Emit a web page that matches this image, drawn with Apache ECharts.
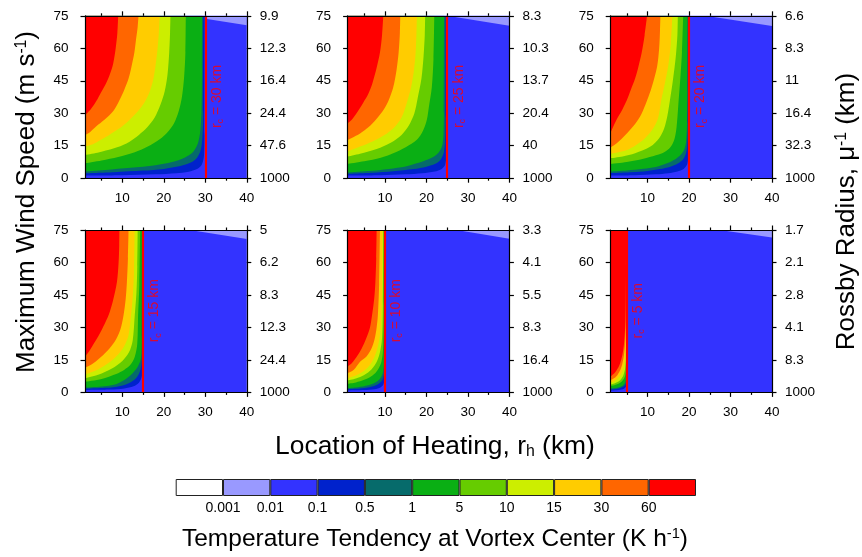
<!DOCTYPE html>
<html>
<head>
<meta charset="utf-8">
<script src="https://cdn.jsdelivr.net/npm/echarts@6/dist/echarts.min.js"></script>
<style>
  html, body { margin: 0; padding: 0; background: #fff; }
  #chart { width: 862px; height: 557px; }
</style>
</head>
<body>
<div id="chart"></div>
<script>
// radius of max wind for each panel (km)
const rmList = [30, 25, 20, 15, 10, 5];

// right axis labels (Rossby radius, km) at y = 0,15,30,45,60,75
const rossbyLabels = [
  ['1000', '47.6', '24.4', '16.4', '12.3', '9.9'],
  ['1000', '40', '20.4', '13.7', '10.3', '8.3'],
  ['1000', '32.3', '16.4', '11', '8.3', '6.6'],
  ['1000', '24.4', '12.3', '8.3', '6.2', '5'],
  ['1000', '16.4', '8.3', '5.5', '4.1', '3.3'],
  ['1000', '8.3', '4.1', '2.8', '2.1', '1.7']
];

const xMajor = [10, 20, 30, 40];
const xMinor = [5, 15, 25, 35];

// colour bar
const cbColors = ['#ffffff', '#9999ff', '#3333ff', '#0022cc', '#066b6b', '#0aaf14',
                  '#66cc00', '#ccee00', '#ffcc00', '#ff6600', '#ff0000'];
const cbLabels = ['0.001', '0.01', '0.1', '0.5', '1', '5', '10', '15', '30', '60'];

// contour lines, [rh, Vmax]; order of levels:
// 0.1, 0.5, 1, 5, 10, 15, 30, 60 (area above each line is > level)
const contourRm30 = [
  [[1,1.2],[10,1.4],[18,1.8],[23,2.3],[26,3],[28,4.2],[29.2,6.5],[29.7,11],[29.8,20],[29.85,75]],
  [[1,2.3],[8,2.8],[15,3.5],[20,4.3],[24,5.6],[26.5,7.2],[28,9.5],[28.9,13],[29.3,19],[29.5,30],[29.52,75]],
  [[1,3.1],[6,3.8],[12,4.8],[18,6],[22,7.5],[25,9.5],[27,12],[28.2,16],[28.8,22],[29.1,32],[29.2,50],[29.22,75]],
  [[1,6.9],[5,8.2],[9,9.8],[13,12],[16,14.5],[19,18],[21,21.5],[22.5,25.5],[23.6,31],[24.4,38],[24.9,47],[25.2,58],[25.3,75]],
  [[1,10.8],[4,11.8],[8,13.8],[11,16],[14,20],[16,23.5],[17.8,28],[19.2,34],[20.2,40],[20.9,48],[21.3,58],[21.5,67],[21.6,75]],
  [[1,14.6],[3,15.8],[6,19],[8,21.5],[10,24],[12,27.5],[14,31.5],[15.5,35.5],[16.7,40.5],[17.5,46],[18,52],[18.5,60],[18.8,67],[19,75]],
  [[1,20],[2,21],[3.6,23.8],[5,26],[6.5,28.4],[8,31.5],[9.3,36],[10.5,41],[11.5,46],[12.2,51.5],[12.9,58],[13.3,64],[13.7,70],[13.9,75]],
  [[1,29],[2,31],[3,33.5],[4,36.5],[5,40],[6,43.5],[7,48],[7.8,53],[8.4,60],[8.8,67],[9,75]]
];
const contourRm25 = [
  [[1,1.2],[9,1.4],[15,1.8],[19,2.3],[22,3.1],[23.7,4.3],[24.5,6.2],[24.8,10],[24.85,20],[24.9,75]],
  [[1,2],[7,2.5],[12,3.2],[17,4.2],[20,5.3],[22.3,6.8],[23.5,8.8],[24.2,12],[24.5,18],[24.6,28],[24.62,75]],
  [[1,2.6],[6,3.3],[11,4.3],[15,5.4],[17.7,6.9],[20.5,8.8],[22,10.3],[23,12],[23.8,15],[24.1,20],[24.2,30],[24.25,75]],
  [[1,6.6],[5,7.8],[9,9.4],[12,11.5],[15,14.3],[17.7,17.7],[19.2,22],[20.1,27],[20.6,33],[21.3,42],[21.7,55],[21.9,75]],
  [[1,10],[4,11.3],[8,13.5],[11.5,16.5],[14,20],[15.8,24.5],[17.1,30],[17.9,37],[18.8,46],[19.3,56],[19.6,66],[19.7,75]],
  [[1,12.3],[4,14.6],[7,17],[10.5,20.7],[12.5,24],[14,28],[15.3,35],[16.3,42],[17,50],[17.4,58],[17.6,67],[17.7,75]],
  [[1,17.7],[2,18.6],[4,20.7],[6,23.5],[8,27.5],[9.8,32],[10.9,36],[12,42],[12.8,50],[13.3,58],[13.6,67],[13.7,75]],
  [[1,25.3],[2,27],[3,29.5],[4.8,35],[6,39],[7,44],[8,51],[8.8,58],[9.3,66],[9.6,75]]
];
const contourRm20 = [
  [[1,1.2],[7,1.4],[12,1.8],[15,2.3],[17.2,3.1],[18.7,4.3],[19.5,6.2],[19.8,9.5],[19.9,18],[19.92,75]],
  [[1,2.3],[6,2.7],[10,3.3],[13,4.2],[15.5,5.3],[17.3,6.8],[18.6,8.8],[19.3,11.8],[19.6,16],[19.75,25],[19.78,75]],
  [[1,3.1],[5,3.6],[9,4.4],[12,5.2],[14.7,6.9],[16.7,8.8],[18,10.8],[18.8,13],[19.3,17],[19.5,24],[19.6,40],[19.62,75]],
  [[1,6.6],[5,7.5],[9,9],[12,10.6],[14,12],[15.5,14.3],[16.4,17.5],[16.9,22],[17.2,28],[17.5,36],[17.9,46],[18.3,58],[18.6,75]],
  [[1,9.2],[4,10],[7,11.5],[10.7,14.6],[12.8,18.5],[14,23],[14.8,29],[15.4,36],[16.1,45],[16.8,56],[17.2,66],[17.3,75]],
  [[1,11.2],[3,12],[5,13],[7,15],[9,17.7],[11,22],[12.5,27.5],[13.3,36],[14.2,44],[15,52],[15.6,62],[16,75]],
  [[1,14.1],[2.5,16],[5,20.7],[7,25],[8.5,29.5],[9.9,36],[11,42],[12.3,51.5],[12.8,60],[13,68],[13.1,75]],
  [[1,20.7],[2.5,26.9],[4,32],[5,36],[6,41],[7,46],[7.8,51.5],[8.6,58],[9.3,66],[9.9,75]]
];
const contourRm15 = [
  [[1,1.1],[7,1.3],[10.5,1.8],[12.7,2.8],[14,4.5],[14.7,7.5],[14.9,13],[14.92,75]],
  [[1,1.7],[6,2.1],[9.5,3],[11.8,4.5],[13.4,6.8],[14.3,10],[14.7,15],[14.85,25],[14.86,75]],
  [[1,2.2],[5,2.7],[8.5,3.8],[11.1,6.5],[12.8,9.5],[13.9,12.5],[14.5,16],[14.7,25],[14.75,75]],
  [[1,4.9],[5,6.2],[8.5,8.5],[10.5,10.5],[11.9,12.6],[13,16.5],[13.6,22.5],[13.8,35.7],[14.1,50],[14.3,75]],
  [[1,6.5],[4,8],[7.5,11],[10,14.5],[11.6,18.5],[12.5,24],[13,35.7],[13.4,46],[13.6,58],[13.7,75]],
  [[1,8.3],[4,10.5],[7.1,14.2],[9,17.5],[10.5,21.5],[11.5,26.5],[12.1,35.7],[12.5,44],[12.8,55],[12.97,75]],
  [[1,11.4],[3,13.5],[5.4,17.3],[7,20.5],[8.5,24.5],[9.6,29.5],[10.3,35.7],[10.8,43],[11.1,51],[11.35,62],[11.5,75]],
  [[1,16.5],[2,19],[3.4,23.4],[4.5,27],[5.7,31.5],[6.7,35.7],[7.7,42],[8.7,51],[9.1,60],[9.25,68],[9.3,75]]
];
const contourRm10 = [
  [[1,0.9],[5,1.1],[7.5,1.5],[9,2.4],[9.7,4],[9.93,8],[9.96,75]],
  [[1,1.5],[4,1.8],[6.5,2.5],[8.2,3.6],[9.3,5.5],[9.8,9],[9.92,16],[9.93,75]],
  [[1,2],[3.5,2.4],[6,3.3],[7.8,4.7],[9,6.8],[9.6,10],[9.85,16],[9.88,75]],
  [[1,4],[3,4.6],[5,5.8],[7,7.8],[8.3,10.5],[9.2,14.5],[9.6,22],[9.75,40],[9.76,75]],
  [[1,5.5],[3,6.4],[5,8],[6.8,10.7],[8,14],[8.8,18.5],[9.3,25],[9.5,40],[9.6,75]],
  [[1,6.6],[3,7.8],[5,10],[6.5,13],[7.6,17],[8.4,22],[8.9,28],[9.1,35.7],[9.3,50],[9.4,75]],
  [[1,8.9],[2.5,10.5],[4,14.2],[5.5,16.5],[6.7,20],[7.5,24.5],[8,30],[8.3,35.7],[8.6,50],[8.8,75]],
  [[1,12],[2,13.5],[3.2,16.5],[4.4,20.3],[5.5,25],[6.4,30],[6.9,35.7],[7.4,43],[7.7,51],[7.9,62],[8,75]]
];
const contourRm5 = [
  [[1,0.9],[2.5,1],[3.7,1.3],[4.4,1.8],[4.85,2.8],[4.98,5],[4.99,75]],
  [[1,1.4],[2.5,1.6],[3.5,2],[4.2,2.7],[4.7,3.8],[4.93,6],[4.98,10],[4.985,75]],
  [[1,1.8],[2.2,2],[3.2,2.4],[4,3.1],[4.5,4.2],[4.85,6.3],[4.96,10],[4.97,75]],
  [[1,3],[2,3.3],[3,4],[3.8,5],[4.4,6.6],[4.75,9],[4.92,14],[4.96,25],[4.965,75]],
  [[1,3.6],[2,4.1],[3,5],[3.7,6.3],[4.2,8],[4.6,11],[4.85,16],[4.94,28],[4.95,75]],
  [[1,4.5],[2,5.2],[2.8,6.4],[3.5,8],[4,10.2],[4.4,13.5],[4.7,18],[4.88,27],[4.92,45],[4.93,75]],
  [[1,5.5],[2,6.6],[2.8,8.2],[3.4,10.2],[3.9,13],[4.3,17],[4.6,23],[4.8,33],[4.88,50],[4.9,75]],
  [[1,7.2],[2,8.8],[2.8,11],[3.4,13.5],[3.9,17],[4.3,22],[4.6,30],[4.75,42],[4.82,58],[4.85,75]]
];
// small 0.001-0.01 wedge at the top right of each panel
const wedges = [
  [[30, 73.6], [40, 70.6]],
  [[25, 75], [40, 70.4]],
  [[24, 75], [40, 70.3]],
  [[26.3, 75], [40, 70.8]],
  [[27.3, 75], [40, 71]],
  [[27.4, 75], [40, 71.5]]
];

const panelContours = [contourRm30, contourRm25, contourRm20, contourRm15, contourRm10, contourRm5];

const FONT = 'Liberation Sans, Arial, Helvetica, sans-serif';
const lineCol = '#000';

let myChart = echarts.init(document.getElementById('chart'));

let grids = [], xAxes = [], yAxes = [], series = [];
const lefts = [85, 347.6, 610.2];
const tops = [15.8, 230];

for (let g = 0; g < 6; g++) {
  grids.push({
    left: lefts[g % 3], top: tops[Math.floor(g / 3)], width: 161.8, height: 162.4,
    show: true, backgroundColor: cbColors[2], borderWidth: 0,
    outerBoundsMode: 'none', containLabel: false
  });
  let common = { type: 'value', gridIndex: g, min: 1, max: 40, splitLine: { show: false }, z: 10 };
  // bottom major
  xAxes.push(Object.assign({}, common, {
    position: 'bottom',
    axisLine: { show: true, lineStyle: { color: lineCol, width: 1.2 } },
    axisTick: { show: true, customValues: xMajor, length: 4.5, lineStyle: { color: lineCol, width: 1.2 } },
    axisLabel: { customValues: xMajor, color: '#000', fontSize: 13.5, fontFamily: FONT, margin: 13 }
  }));
  // bottom minor
  xAxes.push(Object.assign({}, common, {
    position: 'bottom',
    axisLine: { show: false },
    axisTick: { show: true, customValues: xMinor, length: 2.5, lineStyle: { color: lineCol, width: 1.2 } },
    axisLabel: { show: false }
  }));
  // top major
  xAxes.push(Object.assign({}, common, {
    position: 'top',
    axisLine: { show: true, lineStyle: { color: lineCol, width: 1.2 } },
    axisTick: { show: true, customValues: xMajor, length: 4.5, lineStyle: { color: lineCol, width: 1.2 } },
    axisLabel: { show: false }
  }));
  // top minor
  xAxes.push(Object.assign({}, common, {
    position: 'top',
    axisLine: { show: false },
    axisTick: { show: true, customValues: xMinor, length: 2.5, lineStyle: { color: lineCol, width: 1.2 } },
    axisLabel: { show: false }
  }));

  yAxes.push({
    type: 'value', gridIndex: g, position: 'left', min: 0, max: 75, interval: 15, z: 10,
    splitLine: { show: false },
    axisLine: { show: true, lineStyle: { color: lineCol, width: 1.2 } },
    axisTick: { show: true, length: 4.5, lineStyle: { color: lineCol, width: 1.2 } },
    axisLabel: { color: '#000', fontSize: 13.5, fontFamily: FONT, margin: 16.5 }
  });
  let labs = rossbyLabels[g];
  yAxes.push({
    type: 'value', gridIndex: g, position: 'right', min: 0, max: 75, interval: 15, z: 10,
    splitLine: { show: false },
    axisLine: { show: true, lineStyle: { color: lineCol, width: 1.2 } },
    axisTick: { show: true, length: 4.5, lineStyle: { color: lineCol, width: 1.2 } },
    axisLabel: { color: '#000', fontSize: 13.5, fontFamily: FONT, margin: 13,
                 formatter: v => labs[Math.round(v / 15)] }
  });

  // wedge
  series.push({
    type: 'line', xAxisIndex: 4 * g, yAxisIndex: 2 * g, data: wedges[g],
    symbol: 'none', silent: true, lineStyle: { width: 0 },
    areaStyle: { color: cbColors[1], origin: 'end', opacity: 1 }
  });
  // filled contour bands, lowest level first
  panelContours[g].forEach((curve, k) => {
    series.push({
      type: 'line', xAxisIndex: 4 * g, yAxisIndex: 2 * g, data: curve,
      symbol: 'none', silent: true, smooth: 0.3,
      lineStyle: { width: 0 },
      areaStyle: { color: cbColors[3 + k], origin: 'end', opacity: 1 }
    });
  });
  // r_c line and its label
  let rm = rmList[g];
  series.push({
    type: 'scatter', xAxisIndex: 4 * g, yAxisIndex: 2 * g, silent: true,
    data: [[rm + 2.9, 37.5]], symbolSize: 1, itemStyle: { color: 'rgba(0,0,0,0)' },
    label: {
      show: true, position: [0, 0], align: 'center', verticalAlign: 'middle',
      rotate: 90, color: '#ff0000', textBorderWidth: 0, textShadowBlur: 0,
      fontFamily: FONT, fontSize: 14,
      formatter: '{r|r}{s|c}{r| = ' + rm + ' km}',
      rich: {
        r: { fontSize: 14, fontFamily: FONT, color: '#ff0000', lineHeight: 16, textBorderWidth: 0 },
        s: { fontSize: 9, fontFamily: FONT, color: '#ff0000', lineHeight: 9, verticalAlign: 'bottom', textBorderWidth: 0 }
      }
    },
    markLine: {
      silent: true, symbol: ['none', 'none'], animation: false,
      label: { show: false },
      lineStyle: { color: '#ff0000', width: 2.2, type: 'solid' },
      data: [{ xAxis: rm }]
    }
  });
}

// colour bar grid
grids.push({ left: 175.7, top: 479, width: 520.3, height: 17, show: false,
             outerBoundsMode: 'none', containLabel: false });
xAxes.push({ type: 'category', gridIndex: 6, data: cbColors.map((c, i) => i), show: false });
xAxes.push({
  type: 'value', gridIndex: 6, min: 0, max: 11, position: 'bottom',
  splitLine: { show: false }, axisLine: { show: false }, axisTick: { show: false },
  axisLabel: { customValues: [1, 2, 3, 4, 5, 6, 7, 8, 9, 10], formatter: v => cbLabels[v - 1],
               color: '#000', fontSize: 14, fontFamily: FONT, margin: 5 }
});
yAxes.push({ type: 'value', gridIndex: 6, min: 0, max: 1, show: false });
series.push({
  type: 'bar', xAxisIndex: 24, yAxisIndex: 12, barWidth: '100%', silent: true,
  data: cbColors.map(c => ({ value: 1, itemStyle: { color: c, borderColor: '#222', borderWidth: 1 } }))
});

function txt(x, y, rot, text, size) {
  return {
    type: 'text', x: x, y: y, rotation: rot, silent: true,
    style: {
      text: text, fontSize: size, fontFamily: FONT, fill: '#000',
      align: 'center', verticalAlign: 'middle', textAlign: 'center', textVerticalAlign: 'middle',
      rich: {
        sup: { fontSize: size * 0.6, fontFamily: FONT, fill: '#000', verticalAlign: 'top', lineHeight: size * 0.6 },
        sub: { fontSize: size * 0.6, fontFamily: FONT, fill: '#000', verticalAlign: 'bottom', lineHeight: size * 0.6 }
      }
    }
  };
}

myChart.setOption({
  animation: false,
  backgroundColor: '#fff',
  grid: grids,
  xAxis: xAxes,
  yAxis: yAxes,
  series: series,
  graphic: [
    txt(26.7, 202, Math.PI / 2, 'Maximum Wind Speed (m s{sup|-1})', 26),
    txt(846.7, 211.5, Math.PI / 2, 'Rossby Radius, \u03bc{sup|-1} (km)', 26),
    txt(435, 446.7, 0, 'Location of Heating, r{sub|h} (km)', 26.4),
    txt(435, 539, 0, 'Temperature Tendency at Vortex Center (K h{sup|-1})', 24.5)
  ]
});
</script>
</body>
</html>
